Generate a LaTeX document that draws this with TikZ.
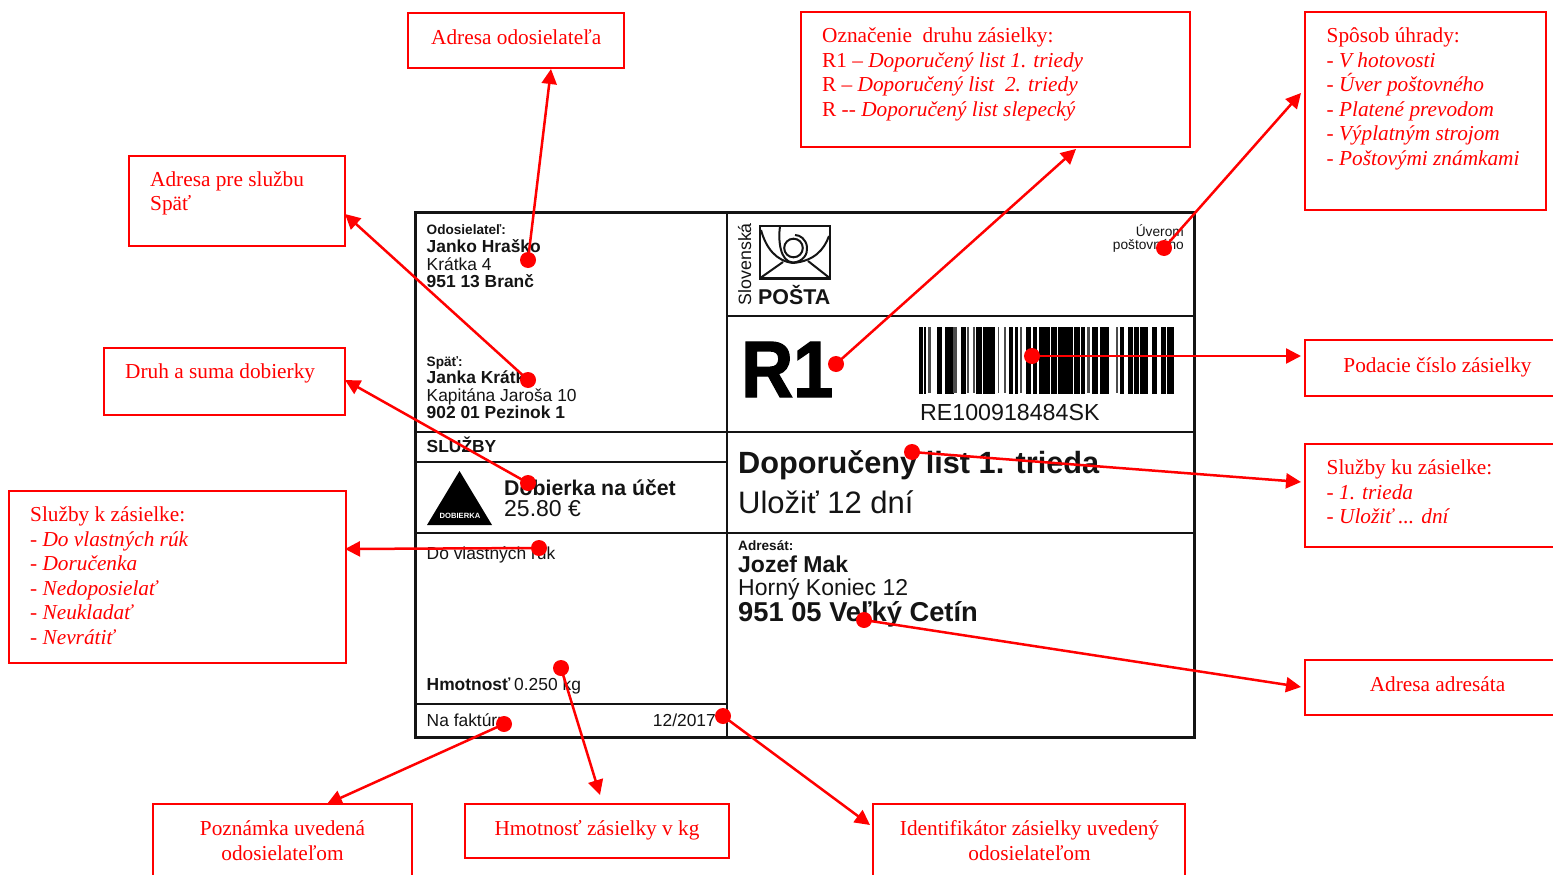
\documentclass[tikz,border=0pt]{standalone}
\usepackage{fontspec}
\setmainfont{Liberation Serif}
\setsansfont{Liberation Sans}
\newfontfamily\heavyfont[FakeBold=1.6,FakeStretch=0.9]{Liberation Sans Bold}
\usetikzlibrary{arrows.meta}
\definecolor{lred}{RGB}{255,0,0}
\definecolor{ink}{RGB}{20,20,20}
\newcommand{\FL}{\rule{0pt}{15pt}}
\tikzset{
 lblbox/.style={draw=lred,line width=2.5pt,fill=white,inner sep=0pt},
 lbltext/.style={text=lred,inner sep=0pt,align=left,anchor=north west,font=\fontsize{21.3}{24.6}\selectfont},
 lblcenter/.style={text=lred,inner sep=0pt,align=center,anchor=north,font=\fontsize{21.3}{24.6}\selectfont},
 reddot/.style={circle,fill=lred,draw=none,minimum size=16pt,inner sep=0pt},
 conn/.style={draw=lred,line width=2.5pt,-{Triangle[length=15pt,width=15pt]}},
 frameheavy/.style={draw=ink,line width=3pt},
 framemid/.style={draw=ink,line width=2.4pt},
 framethin/.style={draw=ink,line width=1.4pt},
 sfr/.style={inner sep=0pt,anchor=base west,text=ink,font=\sffamily\fontsize{17.4}{20}\selectfont},
 sfb/.style={inner sep=0pt,anchor=base west,text=ink,font=\sffamily\bfseries\fontsize{17.4}{20}\selectfont},
 sfsmall/.style={inner sep=0pt,anchor=base west,text=ink,font=\sffamily\bfseries\fontsize{13.6}{15}\selectfont},
 logoline/.style={draw=ink,line width=2pt},
}
\begin{document}
\begin{tikzpicture}[x=1pt,y=-1pt]
\useasboundingbox (0,0) rectangle (1553,875);
\clip (0,0) rectangle (1553,875);
\fill[white] (0,0) rectangle (1553,875);
% label frame
\draw[framemid] (727,316) -- (1195,316);
\draw[framethin] (416,432) -- (1195,432);
\draw[framethin] (416,462) -- (727,462);
\draw[framethin] (416,533) -- (1195,533);
\draw[framethin] (416,704) -- (727,704);
\draw[framethin] (727,212) -- (727,737);
\draw[frameheavy] (415.5,212) rectangle (1194.5,737);
% sender
\node[sfsmall] (t1) at (426.5,234) {Odosielateľ:};
\node[sfb] (t2) at (426.5,252) {Janko Hraško};
\node[sfr] (t3) at (426.5,270) {Krátka 4};
\node[sfb] (t4) at (426.5,287) {951 13 Branč};
\node[sfsmall] (t5) at (426.5,366) {Späť:};
\node[sfb] (t6) at (426.5,383) {Janka Krátka};
\node[sfr] (t7) at (426.5,401) {Kapitána Jaroša 10};
\node[sfb] (t8) at (426.5,418) {902 01 Pezinok 1};
\node[sfb] (t9) at (426.5,452) {SLUŽBY};
% cod triangle
\fill[black] (459.5,471) -- (427,525) -- (492,525) -- cycle;
\node[inner sep=0pt,text=white,font=\sffamily\bfseries\fontsize{7.6}{8}\selectfont] (t10) at (460,516) {DOBIERKA};
\node[sfb,font=\sffamily\bfseries\fontsize{21.3}{24}\selectfont] (t11) at (504,495) {Dobierka na účet};
\node[sfr,font=\sffamily\fontsize{23}{24}\selectfont] (t12) at (504,516) {25.80 €};
\node[sfr] (t13) at (426.5,559) {Do vlastných rúk};
\node[sfb] (t14) at (426.5,690) {Hmotnosť};
\node[sfr] (t15) at (514,690) {0.250 kg};
\node[sfr] (t16) at (426.5,726) {Na faktúru};
\node[sfr,anchor=base east] (t17) at (716,726) {12/2017};
% logo
\node[sfr,rotate=90,anchor=base west,font=\sffamily\fontsize{17.8}{20}\selectfont] (t18) at (751,305.5) {Slovenská};
\draw[logoline,line width=2.6pt] (760,226) rectangle (830,278.5);
\draw[logoline] (761,230) .. controls (766,248) and (776,261) .. (793,263);
\draw[logoline] (829,236) .. controls (824,250) and (814,261) .. (793,263);
\draw[logoline] (761,277.5) -- (783,262);
\draw[logoline] (829,277.5) -- (808,261);
\draw[logoline] (780,226.5) .. controls (778,240) and (780,262) .. (793,262.5) .. controls (803,262) and (808,254) .. (807,247) .. controls (806,239) and (800,235) .. (795,235);
\draw[logoline] (793.5,248) circle (9.3pt);
\node[sfb,font=\sffamily\bfseries\fontsize{21.4}{24}\selectfont] (t19) at (758,304) {POŠTA};
\node[sfr,anchor=base east,font=\sffamily\fontsize{13.7}{15}\selectfont] (t20) at (1184,236) {Úverom};
\node[sfr,anchor=base east,font=\sffamily\fontsize{13.7}{15}\selectfont] (t21) at (1184,249) {poštovného};
% R1
\node[sfb,font=\heavyfont\fontsize{80}{80}\selectfont,text=black] (t22) at (741,397) {R1};
% barcode
\foreach \a/\b in {919/922.3,924/925.7,937/941,945.7/947.3,948.3/953,961.7/965,976/981.7,983.3/989,990.7/994.3,1009/1012.7,1015.7/1017.7,1026.7/1030.7,1033.3/1036.7,1039/1041,1042/1044,1045/1049,1051/1056.7,1058.3/1061,1062.3/1065,1066.7/1072.3,1074/1079.3,1081/1084.3,1092.3/1097.7,1100/1103.3,1104.3/1108.3,1120/1123.3,1128.3/1132.3,1134.3/1138.3,1140/1144,1145/1147.7,1152.3/1156,1161/1165.7,1167/1173.3}
  \fill[black,draw=black,line width=0.5pt] (\a,327) rectangle (\b,393);
\foreach \a/\b in {927.7/931,953.3/957.3,966.7/969,972.7/975,997.7/999.3,1003.7/1005.7,1020/1022.3,1087.3/1090,1116/1117.7}
  \fill[black!70] (\a,327) rectangle (\b,393);
\node[sfr,font=\sffamily\fontsize{23.2}{24}\selectfont] (t23) at (920,420) {RE100918484SK};
% service
\node[sfb,font=\sffamily\bfseries\fontsize{30.7}{32}\selectfont] (t24) at (738,473) {Doporučený list 1. trieda};
\node[sfr,font=\sffamily\fontsize{31}{32}\selectfont] (t25) at (738,513) {Uložiť 12 dní};
% addressee
\node[sfsmall] (t26) at (738,550) {Adresát:};
\node[sfb,font=\sffamily\bfseries\fontsize{23}{24}\selectfont] (t27) at (738,572) {Jozef Mak};
\node[sfr,font=\sffamily\fontsize{23}{24}\selectfont] (t28) at (738,595) {Horný Koniec 12};
\node[sfb,font=\sffamily\bfseries\fontsize{27.3}{28}\selectfont] (t29) at (738,621) {951 05 Veľký Cetín};
% callout boxes
\node[lblbox,minimum width=216pt,minimum height=55pt] (bA) at (516,40.5) {};
\node[lblbox,minimum width=216pt,minimum height=90pt] (bB) at (237,201) {};
\node[lblbox,minimum width=389pt,minimum height=135pt] (bC) at (995.5,79.5) {};
\node[lblbox,minimum width=241pt,minimum height=198pt] (bD) at (1425.5,111) {};
\node[lblbox,minimum width=260pt,minimum height=56pt] (bE) at (1435,368) {};
\node[lblbox,minimum width=260pt,minimum height=103pt] (bF) at (1435,495.5) {};
\node[lblbox,minimum width=260pt,minimum height=55pt] (bG) at (1435,687.5) {};
\node[lblbox,minimum width=241pt,minimum height=67pt] (bH) at (224.5,381.5) {};
\node[lblbox,minimum width=337pt,minimum height=172pt] (bI) at (177.5,577) {};
\node[lblbox,minimum width=259pt,minimum height=76pt] (bJ) at (282.5,842) {};
\node[lblbox,minimum width=264pt,minimum height=54pt] (bK) at (597,831) {};
\node[lblbox,minimum width=312pt,minimum height=76pt] (bL) at (1029,842) {};
% callout texts
\node[lbltext] (lA) at (431,29) {\FL Adresa odosielateľa};
\node[lbltext] (lB) at (150,171) {\FL Adresa pre službu\\Späť};
\node[lbltext] (lC) at (822,27.3) {\FL Označenie\ \ druhu zásielky:\\R1 – \textit{Doporučený list 1. triedy}\\R – \textit{Doporučený list\ \ 2. triedy}\\R -{}- \textit{Doporučený list slepecký}};
\node[lbltext] (lD) at (1326.5,27.3) {\FL Spôsob úhrady:\\- \textit{V hotovosti}\\- \textit{Úver poštovného}\\- \textit{Platené prevodom}\\- \textit{Výplatným strojom}\\- \textit{Poštovými známkami}};
\node[lblcenter] (lE) at (1437.5,357) {\FL Podacie číslo zásielky};
\node[lbltext] (lF) at (1326.5,459.3) {\FL Služby ku zásielke:\\- \textit{1. trieda}\\- \textit{Uložiť ... dní}};
\node[lblcenter] (lG) at (1437.5,676) {\FL Adresa adresáta};
\node[lbltext] (lH) at (125,363) {\FL Druh a suma dobierky};
\node[lbltext] (lI) at (30,506.3) {\FL Služby k zásielke:\\- \textit{Do vlastných rúk}\\- \textit{Doručenka}\\- \textit{Nedoposielať}\\- \textit{Neukladať}\\- \textit{Nevrátiť}};
\node[lblcenter] (lJ) at (282.5,820.3) {\FL Poznámka uvedená\\odosielateľom};
\node[lblcenter] (lK) at (597,820) {\FL Hmotnosť zásielky v kg};
\node[lblcenter] (lL) at (1029.5,820.3) {\FL Identifikátor zásielky uvedený\\odosielateľom};
% arrow targets
\coordinate (eA) at (551,69);
\coordinate (eB) at (345,214);
\coordinate (eC) at (1076,149);
\coordinate (eD) at (1301,93);
\coordinate (eE) at (1301,356);
\coordinate (eF) at (1301,482);
\coordinate (eG) at (1301,687);
\coordinate (eH) at (345,380);
\coordinate (eI) at (345,549);
\coordinate (eJ) at (327,804);
\coordinate (eK) at (600,795);
\coordinate (eL) at (870,825);
% dots
\node[reddot] (dA) at (528,260) {};
\node[reddot] (dB) at (528,380) {};
\node[reddot] (dC) at (836,364) {};
\node[reddot] (dD) at (1164,248) {};
\node[reddot] (dE) at (1032,356) {};
\node[reddot] (dF) at (912,452) {};
\node[reddot] (dG) at (864,620) {};
\node[reddot] (dH) at (528,483) {};
\node[reddot] (dI) at (539,548) {};
\node[reddot] (dJ) at (504,724) {};
\node[reddot] (dK) at (561,668) {};
\node[reddot] (dL) at (723,716) {};
% connectors
\foreach \n in {A,B,C,D,E,F,G,H,I,J,K,L}
  \draw[conn] (d\n.center) -- (e\n);
\end{tikzpicture}
\end{document}
